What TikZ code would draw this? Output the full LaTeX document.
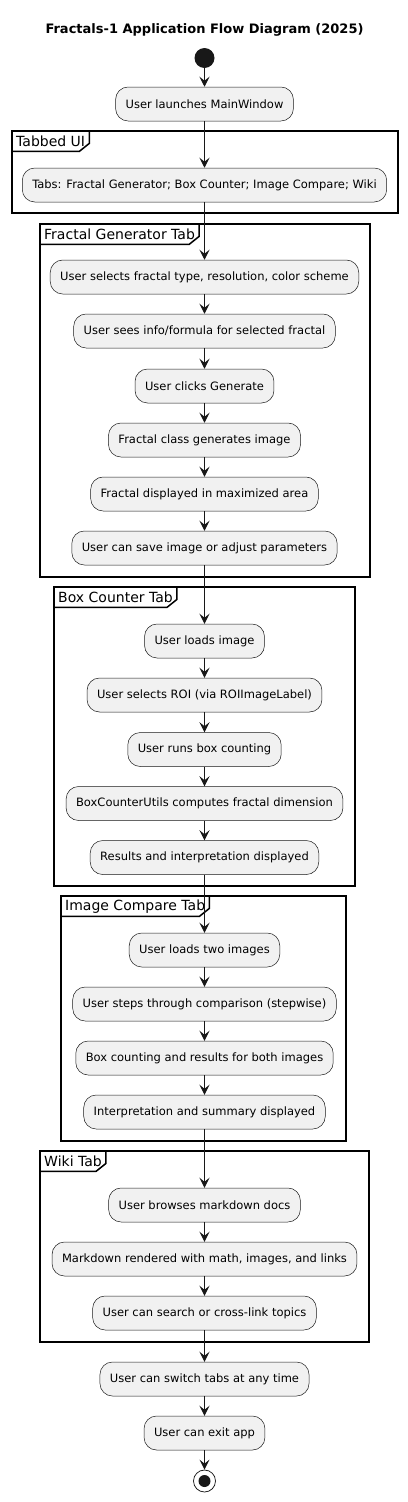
\documentclass[tikz,border=0pt]{standalone}
\usepackage{fontspec}
\setmainfont{DejaVu Sans}
\usetikzlibrary{arrows.meta}
\definecolor{actfill}{HTML}{F1F1F1}
\definecolor{actline}{HTML}{181818}
\tikzset{
  act/.style={draw=actline, fill=actfill, line width=0.5pt, rounded corners=12.5pt,
    minimum height=34pt, inner xsep=10pt, inner ysep=0pt, font=\fontsize{11.5}{13}\selectfont},
  flow/.style={draw=actline, line width=1pt, -{Stealth[length=10pt,width=10pt,inset=4pt]}},
  frame/.style={draw=black, line width=1.5pt},
  framelabel/.style={anchor=north west, inner xsep=4pt, inner ysep=0pt, minimum height=20pt,
    font=\fontsize{14}{16}\selectfont}
}
\begin{document}
\begin{tikzpicture}[x=1pt, y=-1pt]
    \useasboundingbox (0,0) rectangle (407,1502);
    % Titel
    \node[font=\bfseries\fontsize{13}{15}\selectfont] (title) at (204.5,30) {Fractals-1 Application Flow Diagram (2025)};

    % Rahmen der Gruppen
    \draw[frame] (12,131) rectangle (398,213);
    \node[framelabel] (lUI) at (12,131) {Tabbed UI};
    \draw[frame] (40,224) rectangle (370,577);
    \node[framelabel] (lFG) at (40,224) {Fractal Generator Tab};
    \draw[frame] (54,587) rectangle (355,886);
    \node[framelabel] (lBC) at (54,587) {Box Counter Tab};
    \draw[frame] (61,896) rectangle (346,1141);
    \node[framelabel] (lIC) at (61,896) {Image Compare Tab};
    \draw[frame] (40,1151) rectangle (369,1342);
    \node[framelabel] (lWiki) at (40,1151) {Wiki Tab};
    \foreach \l in {lUI, lFG, lBC, lIC, lWiki}
        \draw[frame] (\l.south west) -- ([xshift=-10pt]\l.south east) -- ([yshift=8pt]\l.south east) -- (\l.north east);

    % Start und Ende
    \node[circle, fill=actline, minimum size=20pt, inner sep=0pt] (start) at (204.5,58) {};
    \node[circle, draw=actline, line width=0.75pt, minimum size=22pt, inner sep=0pt] (stop) at (204.5,1481) {};
    \node[circle, fill=actline, minimum size=12pt, inner sep=0pt] (stopdot) at (stop) {};

    % Aktivitaeten
    \node[act] (n1) at (204.5,104) {User launches MainWindow};
    \node[act] (n2) at (204.5,185) {Tabs: Fractal Generator; Box Counter; Image Compare; Wiki};
    \node[act] (n3) at (204.5,277) {User selects fractal type, resolution, color scheme};
    \node[act] (n4) at (204.5,331) {User sees info/formula for selected fractal};
    \node[act] (n5) at (204.5,386) {User clicks Generate};
    \node[act] (n6) at (204.5,440) {Fractal class generates image};
    \node[act] (n7) at (204.5,494) {Fractal displayed in maximized area};
    \node[act] (n8) at (204.5,548) {User can save image or adjust parameters};
    \node[act] (n9) at (204.5,641) {User loads image};
    \node[act] (n10) at (204.5,695) {User selects ROI (via ROIImageLabel)};
    \node[act] (n11) at (204.5,749.5) {User runs box counting};
    \node[act] (n12) at (204.5,803.5) {BoxCounterUtils computes fractal dimension};
    \node[act] (n13) at (204.5,857.5) {Results and interpretation displayed};
    \node[act] (n14) at (204.5,950) {User loads two images};
    \node[act] (n15) at (204.5,1004) {User steps through comparison (stepwise)};
    \node[act] (n16) at (204.5,1058) {Box counting and results for both images};
    \node[act] (n17) at (204.5,1112) {Interpretation and summary displayed};
    \node[act] (n18) at (204.5,1205) {User browses markdown docs};
    \node[act] (n19) at (204.5,1259) {Markdown rendered with math, images, and links};
    \node[act] (n20) at (204.5,1313) {User can search or cross-link topics};
    \node[act] (n21) at (204.5,1379) {User can switch tabs at any time};
    \node[act] (n22) at (204.5,1433) {User can exit app};

    % Pfeile
    \foreach \a/\b in {start/n1, n1/n2, n2/n3, n3/n4, n4/n5, n5/n6, n6/n7, n7/n8, n8/n9,
        n9/n10, n10/n11, n11/n12, n12/n13, n13/n14, n14/n15, n15/n16, n16/n17, n17/n18,
        n18/n19, n19/n20, n20/n21, n21/n22, n22/stop}
        \draw[flow] (\a) -- (\b);
\end{tikzpicture}
\end{document}
